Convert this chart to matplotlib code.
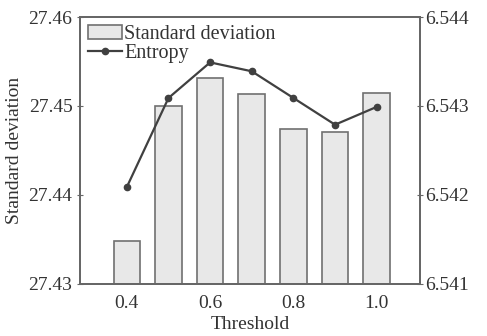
import numpy as np
import matplotlib
matplotlib.use('Agg')
import matplotlib.pyplot as plt

# ── data ──────────────────────────────────────────────
threshold = [0.4, 0.5, 0.6, 0.7, 0.8, 0.9, 1.0]
std_dev   = [27.4348, 27.4500, 27.4532, 27.4514, 27.4474, 27.4471, 27.4515]
entropy   = [6.54209, 6.54309, 6.54349, 6.54339, 6.54309, 6.54279, 6.54299]

x_ticks  = [0.4, 0.6, 0.8, 1.0]
y1_ticks = [27.43, 27.44, 27.45, 27.46]
y2_ticks = [6.541, 6.542, 6.543, 6.544]

# ── style ─────────────────────────────────────────────
TXT   = '#333333'
SPINE = '#666666'
plt.rcParams['font.family'] = ['Liberation Serif', 'DejaVu Serif']
plt.rcParams['font.size'] = 14

fig = plt.figure(figsize=(4.87, 3.36), dpi=100)
ax = fig.add_axes([0.1643, 0.1548, 0.6981, 0.7946])
ax2 = ax.twinx()

bars = ax.bar(threshold, [v - 27.43 for v in std_dev], bottom=27.43, width=0.064,
              color='#e8e8e8', edgecolor='#707070', linewidth=1.2,
              label='Standard deviation', zorder=2)
ln, = ax2.plot(threshold, entropy, '-o', color='#404040', lw=1.6, ms=4.5,
               label='Entropy', zorder=3)

ax.set_xlim(0.2875, 1.104)
ax.set_ylim(27.43, 27.46)
ax2.set_ylim(6.541, 6.544)

ax.set_xticks(x_ticks)
ax.set_xticklabels([f'{t:.1f}' for t in x_ticks])
ax.set_yticks(y1_ticks)
ax.set_yticklabels([f'{t:.2f}' for t in y1_ticks])
ax2.set_yticks(y2_ticks)
ax2.set_yticklabels([f'{t:.3f}' for t in y2_ticks])

ax.tick_params(axis='x', direction='in', length=3, pad=8, colors=SPINE, labelcolor=TXT)
ax.tick_params(axis='y', direction='inout', length=5, pad=3, colors=SPINE, labelcolor=TXT)
ax2.tick_params(axis='y', direction='inout', length=5, pad=1, colors=SPINE, labelcolor=TXT)

for a in (ax, ax2):
    for sp in a.spines.values():
        sp.set_edgecolor(SPINE)
        sp.set_linewidth(1.3)

ax.set_xlabel('Threshold', color=TXT, labelpad=3)
ax.set_ylabel('Standard deviation', color=TXT, labelpad=4)

ax.legend([bars, ln], ['Standard deviation', 'Entropy'], loc='upper left',
          frameon=False, handlelength=1.7, handletextpad=0.1,
          labelspacing=0.0, borderaxespad=0.3, borderpad=0.1,
          labelcolor=TXT, fontsize=14.5)

fig.savefig('out.png', dpi=100)
